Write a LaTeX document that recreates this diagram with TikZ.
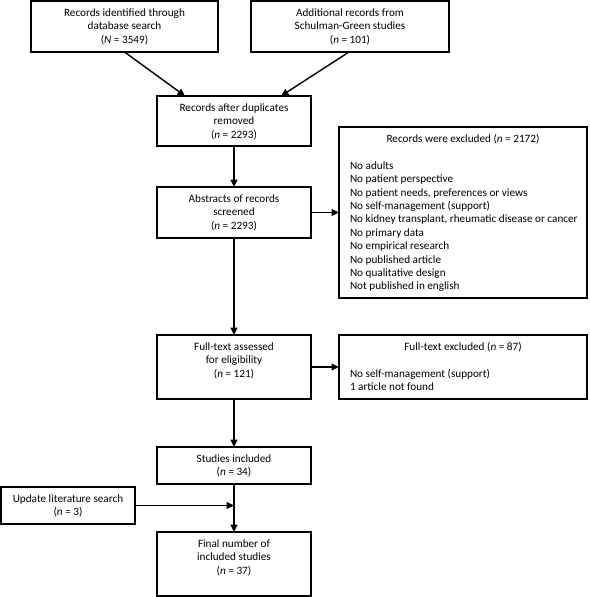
\documentclass[tikz,border=0pt]{standalone}
\usepackage{fontspec}
\setmainfont{Carlito}
\usetikzlibrary{arrows.meta,calc}
\newcommand{\bxt}[3]{\parbox[c][#2][t]{#1}{\centering\rule{0pt}{15.5pt}\ignorespaces#3}}
\tikzset{
  boxnode/.style={draw=black, line width=1.1pt, inner sep=0pt, outer sep=0pt, font=\fontsize{11.2pt}{13.4pt}\selectfont},
  arr/.style={line width=1.4pt, -{Triangle[length=7.5pt,width=7pt]}},
}
\begin{document}
\begin{tikzpicture}[x=1pt,y=-1pt]
\useasboundingbox (0,0) rectangle (589,597);
\node[boxnode] (b1) at (124.5,26.5) {\bxt{187pt}{51pt}{Records identified through\\database search\\(\textit{N} = 3549)}};
\node[boxnode] (b2) at (350,26.5) {\bxt{198pt}{51pt}{Additional records from\\Schulman-Green studies\\(\textit{n} = 101)}};
\node[boxnode] (b3) at (234,121) {\bxt{154pt}{50pt}{Records after duplicates\\removed\\(\textit{n} = 2293)}};
\node[boxnode] (ex1) at (463,212.5) {\parbox[c][171pt][t]{248pt}{\centering\rule{0pt}{15.5pt}Records were excluded (\textit{n} = 2172)\par\vspace{13.4pt}\raggedright\leftskip=11pt
No adults\\
No patient perspective\\
No patient needs, preferences or views\\
No self-management (support)\\
No kidney transplant, rheumatic disease or cancer\\
No primary data\\
No empirical research\\
No published article\\
No qualitative design\\
Not published in english}};
\node[boxnode] (b4) at (234,212.5) {\bxt{154pt}{51pt}{Abstracts of records\\screened\\(\textit{n} = 2293)}};
\node[boxnode] (b5) at (234,367) {\bxt{154pt}{64pt}{Full-text assessed\\for eligibility\\(\textit{n} = 121)}};
\node[boxnode] (ex2) at (463,367) {\parbox[c][64pt][t]{248pt}{\centering\rule{0pt}{15.5pt}Full-text excluded (\textit{n} = 87)\par\vspace{13.4pt}\raggedright\leftskip=11pt
No self-management (support)\\
1 article not found}};
\node[boxnode] (b6) at (234,465.5) {\bxt{154pt}{37pt}{Studies included\\(\textit{n} = 34)}};
\node[boxnode] (upd) at (68,505.5) {\bxt{134pt}{37pt}{Update literature search\\(\textit{n} = 3)}};
\node[boxnode] (fin) at (234,564) {\bxt{154pt}{64pt}{Final number of\\included studies\\(\textit{n} = 37)}};
\draw[arr] (b1.south) -- ([xshift=-49pt]b3.north);
\draw[arr] ([xshift=-1pt]b2.south) -- ([xshift=47pt]b3.north);
\draw[arr] (b3.south) -- (b4.north);
\draw[arr] (b4.east) -- (b4.east -| ex1.west);
\draw[arr] (b4.south) -- (b5.north);
\draw[arr] (b5.east) -- (b5.east -| ex2.west);
\draw[arr] (b5.south) -- (b6.north);
\draw[arr] (b6.south) -- (fin.north);
\draw[arr] (upd.east) -- (upd.east -| b6.south);
\end{tikzpicture}
\end{document}
